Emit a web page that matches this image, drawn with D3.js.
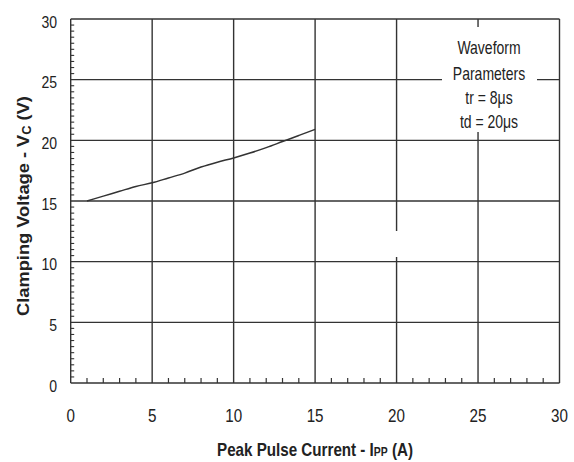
<html>
<head>
<title>Clamping Voltage</title>
<style>
  body { margin: 0; background: #fff; }
  text { font-family: "Liberation Sans", Arial, sans-serif; fill: #222; }
</style>
</head>
<body>
<div id="svghere"></div>
<script src="https://d3js.org/d3.v7.min.js"></script>
<script>
// peak pulse current (A) vs clamping voltage (V)
var current = [1, 2, 3, 4, 5, 6, 7, 8, 9, 10, 11, 12, 13, 14, 15];
var voltage = [15.0, 15.4, 15.8, 16.2, 16.5, 16.9, 17.3, 17.8, 18.2, 18.55, 18.95, 19.4, 19.9, 20.4, 20.9];
var xTicks = [0, 5, 10, 15, 20, 25, 30];
var yTicks = [0, 5, 10, 15, 20, 25, 30];
var legendLines = ["Waveform", "Parameters", "tr = 8\u03bcs", "td = 20\u03bcs"];

var W = 574, H = 462;
var m = {left: 70.7, right: 574 - 559.5, top: 19, bottom: 462 - 383};

var svg = d3.select("#svghere")
    .append('svg')
    .attr('width', W)
    .attr('height', H);

var x = d3.scaleLinear().domain([0, 30]).range([m.left, W - m.right]);
var y = d3.scaleLinear().domain([0, 30]).range([H - m.bottom, m.top]);

// narrow-looking text: translate then squeeze horizontally
function narrow(px, py, sx) {
    return 'translate(' + px + ',' + py + ') scale(' + sx + ',1)';
}

var grid = svg.append('g')
    .attr('stroke', '#333')
    .attr('stroke-width', 1.4);

// vertical grid lines
grid.selectAll('line.v')
    .data(xTicks)
    .enter()
    .append('line')
    .attr('x1', function(d) { return x(d); })
    .attr('x2', function(d) { return x(d); })
    .attr('y1', y(0))
    .attr('y2', y(30));

// horizontal grid lines
grid.selectAll('line.h')
    .data(yTicks)
    .enter()
    .append('line')
    .attr('x1', x(0))
    .attr('x2', x(30))
    .attr('y1', function(d) { return y(d); })
    .attr('y2', function(d) { return y(d); });

// minor ticks
var xMinor = d3.range(1, 30).filter(function(d) { return d % 5 !== 0; });
grid.selectAll('line.xm')
    .data(xMinor)
    .enter()
    .append('line')
    .attr('stroke-width', 1.2)
    .attr('x1', function(d) { return x(d); })
    .attr('x2', function(d) { return x(d); })
    .attr('y1', y(0))
    .attr('y2', y(0) - 5);

var yMinor = d3.range(0.5, 30, 0.5).filter(function(d) { return d % 5 !== 0; });
grid.selectAll('line.ym')
    .data(yMinor)
    .enter()
    .append('line')
    .attr('stroke-width', 1.1)
    .attr('x1', x(0))
    .attr('x2', x(0) + 3.5)
    .attr('y1', function(d) { return y(d); })
    .attr('y2', function(d) { return y(d); });

// white masks over the grid
svg.append('rect')
    .attr('x', 442).attr('y', 27)
    .attr('width', 95).attr('height', 105)
    .attr('fill', '#fff');
svg.append('rect')
    .attr('x', x(20) - 3).attr('y', 231)
    .attr('width', 6).attr('height', 26)
    .attr('fill', '#fff');

// curve
var line = d3.line()
    .x(function(d, i) { return x(d); })
    .y(function(d, i) { return y(voltage[i]); })
    .curve(d3.curveMonotoneX);

svg.append('path')
    .datum(current)
    .attr('d', line)
    .attr('fill', 'none')
    .attr('stroke', '#333')
    .attr('stroke-width', 1.5);

// tick labels
svg.selectAll('text.xt')
    .data(xTicks)
    .enter()
    .append('text')
    .attr('transform', function(d) { return narrow(x(d), 421.5, 0.8); })
    .attr('text-anchor', 'middle')
    .style('font-size', '19px')
    .text(function(d) { return d; });

svg.selectAll('text.yt')
    .data(yTicks)
    .enter()
    .append('text')
    .attr('transform', function(d) { return narrow(57, y(d) + 8.5, 0.85); })
    .attr('text-anchor', 'end')
    .style('font-size', '16.5px')
    .text(function(d) { return d; });

// legend text
var legendBase = [54, 79.5, 103.5, 128];
svg.selectAll('text.lg')
    .data(legendLines)
    .enter()
    .append('text')
    .attr('transform', function(d, i) { return narrow(489, legendBase[i], 0.8); })
    .attr('text-anchor', 'middle')
    .style('font-size', '17.5px')
    .text(function(d) { return d; });

// axis titles
var xt = svg.append('text')
    .attr('text-anchor', 'middle')
    .style('font-size', '19px')
    .style('font-weight', 'bold');
xt.append('tspan').text('Peak Pulse Current - I');
xt.append('tspan').style('font-size', '13px').text('PP');
xt.append('tspan').text(' (A)');
var xtw = xt.node().getComputedTextLength();
xt.attr('transform', narrow(315, 456, 196 / xtw));

var yt = svg.append('text')
    .attr('text-anchor', 'middle')
    .style('font-size', '17px')
    .style('font-weight', 'bold');
yt.append('tspan').text('Clamping Voltage - V');
yt.append('tspan').style('font-size', '12px').attr('dy', 2).text('C');
yt.append('tspan').attr('dy', -2).text(' (V)');
var ytw = yt.node().getComputedTextLength();
yt.attr('transform', 'translate(29,206) rotate(-90) scale(' + (220 / ytw) + ',1)');
</script>
</body>
</html>
